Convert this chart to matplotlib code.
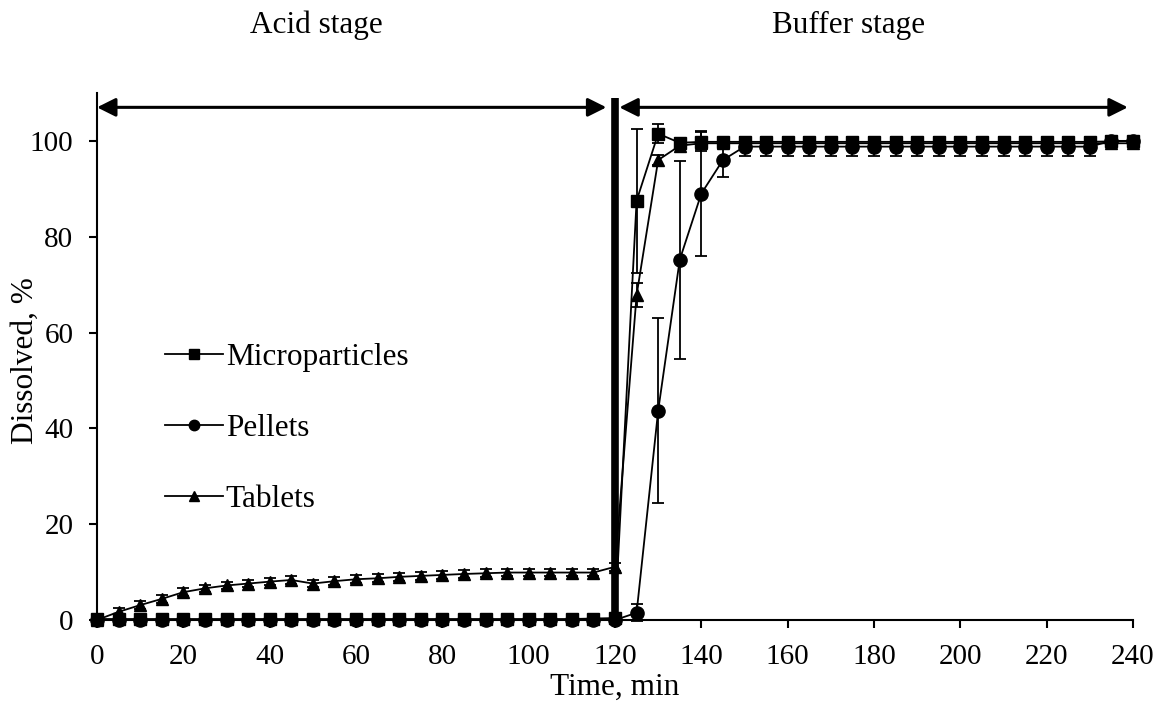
import matplotlib.pyplot as plt
from matplotlib.lines import Line2D

plt.rcParams['font.family'] = ['Liberation Serif', 'DejaVu Serif']
plt.rcParams['font.size'] = 22

# dissolution data, time in min
time = [0, 5, 10, 15, 20, 25, 30, 35, 40, 45, 50, 55, 60, 65, 70, 75, 80, 85, 90, 95,
        100, 105, 110, 115, 120, 125, 130, 135, 140, 145, 150, 155, 160, 165, 170, 175,
        180, 185, 190, 195, 200, 205, 210, 215, 220, 225, 230, 235, 240]

micro = [0.2, 0.2, 0.2, 0.2, 0.2, 0.2, 0.2, 0.2, 0.2, 0.2, 0.2, 0.2, 0.2, 0.2, 0.2, 0.2,
         0.2, 0.2, 0.2, 0.2, 0.2, 0.2, 0.2, 0.3, 0.4, 87.5, 101.5, 99.6, 99.8, 99.8, 99.8,
         99.8, 99.8, 99.8, 99.8, 99.8, 99.8, 99.8, 99.8, 99.8, 99.8, 99.8, 99.8, 99.8,
         99.8, 99.8, 99.8, 99.9, 100.0]
micro_err = [0.1] * 25 + [15.0, 2.0, 1.0, 2.0] + [0.5] * 20

pellets = [0.0] * 25 + [1.5, 43.7, 75.2, 89.0, 96.0, 98.8, 98.8, 98.8, 98.8, 98.8, 98.8,
                        98.8, 98.8, 98.8, 98.8, 98.8, 98.8, 98.8, 98.8, 98.8, 98.8,
                        98.8, 100.0, 100.0]
pellets_err = [0.0] * 25 + [1.8, 19.3, 20.7, 13.0, 3.5] + [2.0] * 17 + [0.0, 0.0]

tablets = [0.0, 1.7, 3.1, 4.4, 5.8, 6.6, 7.2, 7.6, 8.0, 8.35, 7.6, 8.1, 8.5, 8.7, 9.0,
           9.2, 9.4, 9.6, 9.75, 9.9, 9.9, 9.9, 9.9, 9.9, 11.1, 67.8, 96.0, 99.0, 99.5,
           99.5, 99.5, 99.5, 99.5, 99.5, 99.5, 99.5, 99.5, 99.5, 99.5, 99.5, 99.5, 99.5,
           99.5, 99.5, 99.5, 99.5, 99.5, 99.5, 99.5]
tablets_err = [0.0] + [0.8] * 24 + [2.5, 1.0] + [0.5] * 22

fig = plt.figure(figsize=(11.66, 7.07), dpi=100)
ax = fig.add_axes([0.0832, 0.1231, 0.8885, 0.7454])

common = dict(color='black', lw=1.3, elinewidth=1.3, capsize=4, capthick=1.3, clip_on=False)
ax.errorbar(time, tablets, yerr=tablets_err, marker='^', ms=9, zorder=3, **common)
ax.errorbar(time, pellets, yerr=pellets_err, marker='o', ms=9.5, zorder=4, **common)
ax.errorbar(time, micro, yerr=micro_err, marker='s', ms=8.5, zorder=5, **common)

# stage divider and arrows
ax.vlines(120, 0, 109, color='black', lw=5.5, zorder=6, clip_on=False)
ax.annotate('', xy=(0, 107), xytext=(118, 107), annotation_clip=False,
            arrowprops=dict(arrowstyle='<|-|>', lw=2.2, color='black',
                            mutation_scale=28, shrinkA=0, shrinkB=0))
ax.annotate('', xy=(121, 107), xytext=(238.8, 107), annotation_clip=False,
            arrowprops=dict(arrowstyle='<|-|>', lw=2.2, color='black',
                            mutation_scale=28, shrinkA=0, shrinkB=0))
ax.text(50.8, 122.5, 'Acid stage', ha='center', va='baseline', fontsize=22.5)
ax.text(174.1, 122.5, 'Buffer stage', ha='center', va='baseline', fontsize=22.5)

ax.set_xlim(0, 240)
ax.set_ylim(0, 110)
ax.set_xticks(range(0, 241, 20))
ax.set_yticks(range(0, 101, 20))
ax.spines['top'].set_visible(False)
ax.spines['right'].set_visible(False)
ax.spines['left'].set_linewidth(1.5)
ax.spines['bottom'].set_linewidth(1.5)
ax.tick_params(width=1.5, length=6, labelsize=21, pad=11)
ax.set_xlabel('Time, min', fontsize=22.5, labelpad=2)
ax.set_ylabel('Dissolved, %', fontsize=22.5)
ax.yaxis.set_label_coords(-0.055, 0.493)

handles = [Line2D([], [], color='black', lw=1.3, marker='s', ms=7),
           Line2D([], [], color='black', lw=1.3, marker='o', ms=7.5),
           Line2D([], [], color='black', lw=1.3, marker='^', ms=7.5)]
ax.legend(handles, ['Microparticles', 'Pellets', 'Tablets'], frameon=False,
          loc='upper left', bbox_to_anchor=(0.066, 0.526), borderpad=0, borderaxespad=0,
          handlelength=1.85, handletextpad=0.08, labelspacing=1.35, fontsize=22.5)

fig.savefig('out.png')
